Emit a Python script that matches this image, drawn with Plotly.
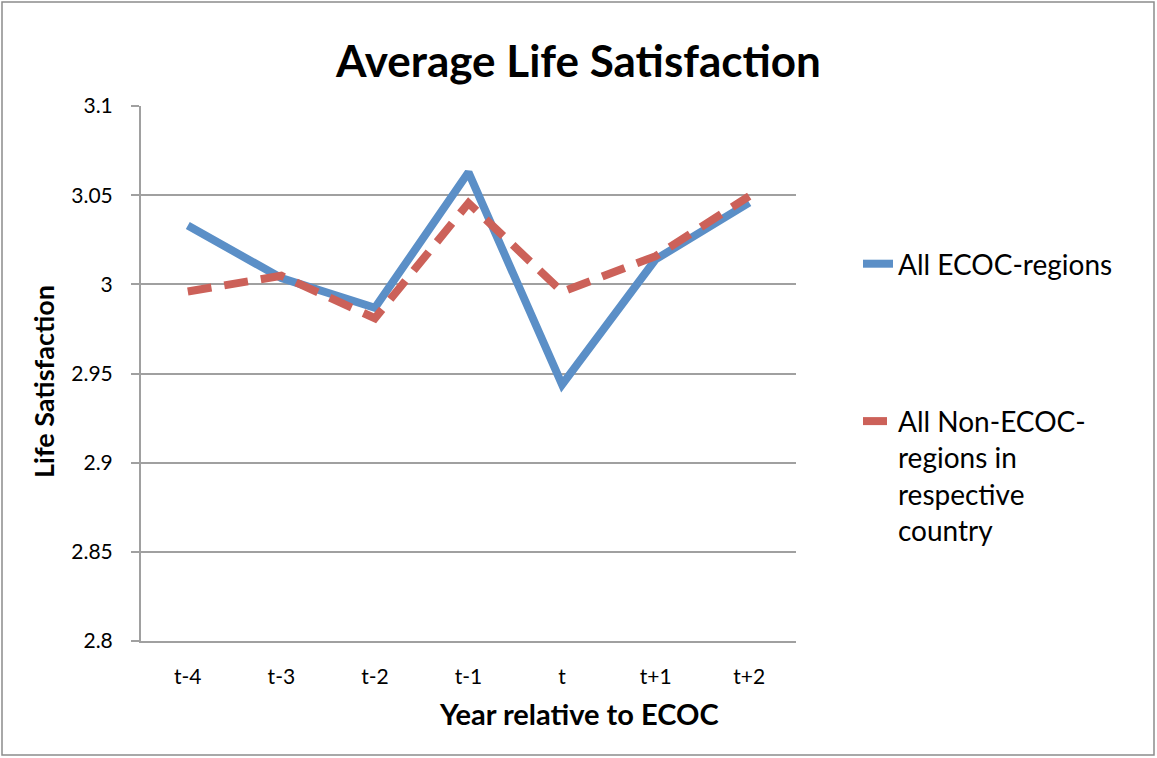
import plotly.graph_objects as go

categories = ["t-4", "t-3", "t-2", "t-1", "t", "t+1", "t+2"]
ecoc = [3.0330, 3.0035, 2.9868, 3.0628, 2.9438, 3.0140, 3.0458]
non_ecoc = [2.9960, 3.0048, 2.9810, 3.0456, 2.9958, 3.0158, 3.0495]
y_ticks = [2.8, 2.85, 2.9, 2.95, 3.0, 3.05, 3.1]
y_tick_text = ["2.8", "2.85", "2.9", "2.95", "3", "3.05", "3.1"]

FONT = "Lato, 'Open Sans', sans-serif"
W, H = 1157, 758
ML, MR, MT, MB = 141, 361, 106, 117
PW, PH = W - ML - MR, H - MT - MB


def px_x(px):
    return (px - ML) / PW


def px_y(py):
    return (H - MB - py) / PH


fig = go.Figure()
fig.add_trace(go.Scatter(
    x=categories, y=ecoc, mode="lines", name="All ECOC-regions",
    line=dict(color="#5B8FC7", width=8), legendgroup="a"))
fig.add_trace(go.Scatter(
    x=categories, y=non_ecoc, mode="lines",
    name="All Non-ECOC-<br>regions in<br>respective<br>country",
    line=dict(color="#CC6159", width=8, dash="24px,13px"), legendgroup="b"))

fig.update_layout(
    width=W, height=H,
    margin=dict(l=ML, r=MR, t=MT, b=MB),
    paper_bgcolor="white", plot_bgcolor="white",
    font=dict(family=FONT, color="black"),
    title=dict(text="<b>Average Life Satisfaction</b>", x=0.5,
               xanchor="center", y=1 - 62 / H, yanchor="middle",
               font=dict(size=44, family=FONT)),
    xaxis=dict(
        type="category", categoryorder="array", categoryarray=categories,
        range=[-0.5, 6.5], showgrid=False, showline=True, linecolor="#A0A0A0",
        linewidth=2, ticks="", tickfont=dict(size=21), ticklabelstandoff=16,
        zeroline=False),
    yaxis=dict(
        range=[2.8, 3.1], tickvals=y_ticks, ticktext=y_tick_text,
        showgrid=True, gridcolor="#A0A0A0", gridwidth=1.5,
        showline=True, linecolor="#A0A0A0", linewidth=2,
        ticks="outside", ticklen=8, tickcolor="#A0A0A0", tickwidth=1.5,
        tickfont=dict(size=21), ticklabelstandoff=14,
        zeroline=False),
    annotations=[
        dict(text="<b>Year relative to ECOC</b>", xref="paper", yref="paper",
             x=px_x(579), y=px_y(713), xanchor="center", yanchor="middle",
             showarrow=False, font=dict(size=29, family=FONT)),
        dict(text="<b>Life Satisfaction</b>", xref="paper", yref="paper",
             x=px_x(43), y=px_y(382), xanchor="center", yanchor="middle",
             textangle=-90, showarrow=False, font=dict(size=27, family=FONT)),
    ],
    legend=dict(
        x=px_x(858), xanchor="left", y=px_y(239), yanchor="top",
        font=dict(size=28, family=FONT), tracegroupgap=118, valign="top",
        bgcolor="rgba(0,0,0,0)"),
    showlegend=True,
    shapes=[dict(type="rect", xref="paper", yref="paper",
                 x0=px_x(2), x1=px_x(W - 3), y0=px_y(H - 3), y1=px_y(2),
                 line=dict(color="#8C8C8C", width=1.5), layer="below")],
)

fig.write_html("out.html", config={"displayModeBar": False},
               post_script="document.body.style.margin='0px';")
